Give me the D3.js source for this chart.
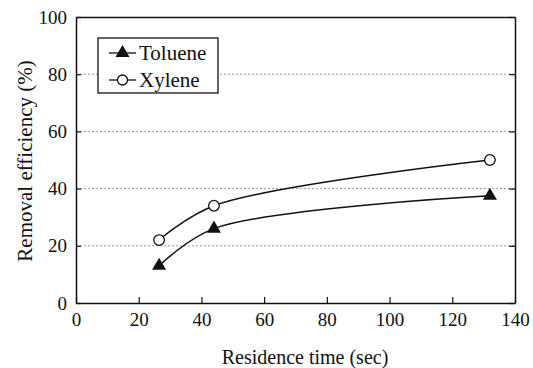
<!DOCTYPE html>
<html><head><meta charset="utf-8">
<script src="https://cdn.jsdelivr.net/npm/d3@7"></script>
<style>
body{margin:0;background:#fff}
svg text{font-family:"Liberation Serif" !important;}
</style>
</head><body><svg id="c" width="533" height="368"></svg>
<script>
const seriesNames = ["Toluene", "Xylene"];
const tolueneX = [26.5, 44, 132];
const tolueneY = [13, 26, 37.5];
const xyleneX = [26.5, 44, 132];
const xyleneY = [22, 34, 50];
const xTicks = [0, 20, 40, 60, 80, 100, 120, 140];
const yTicks = [0, 20, 40, 60, 80, 100];

const svg = d3.select("#c");
const L = 76, R = 515, T = 17, B = 303;
const x = d3.scaleLinear().domain([0, 140]).range([L, R]);
const y = d3.scaleLinear().domain([0, 100]).range([B, T]);

function txt(sel, size) {
  return sel.style("font-family", '"Liberation Serif"').style("font-size", size + "px").attr("fill", "#111");
}

// gridlines
svg.append("g").selectAll("line").data(yTicks.filter(d => d > 0 && d < 100)).join("line")
  .attr("x1", L).attr("x2", R).attr("y1", d => y(d)).attr("y2", d => y(d))
  .attr("stroke", "#999").attr("stroke-width", 1).attr("stroke-dasharray", "2,2");

// axes
const gx = svg.append("g").attr("transform", `translate(0,${B})`)
  .call(d3.axisBottom(x).tickValues(xTicks).tickSizeInner(-6).tickSizeOuter(0).tickPadding(13));
const gy = svg.append("g").attr("transform", `translate(${L},0)`)
  .call(d3.axisLeft(y).tickValues(yTicks).tickSizeInner(-5).tickSizeOuter(0).tickPadding(9));
const gr = svg.append("g").attr("transform", `translate(${R},0)`)
  .call(d3.axisRight(y).tickValues(yTicks).tickSizeInner(-6).tickSizeOuter(0).tickFormat(""));
const gt = svg.append("g").attr("transform", `translate(0,${T})`)
  .call(d3.axisTop(x).tickValues([]).tickSizeOuter(0));
[gx, gy, gr, gt].forEach(g => {
  g.attr("font-family", null).attr("font-size", null);
  g.select(".domain").attr("stroke", "#111").attr("stroke-width", 1.5);
  g.selectAll(".tick line").attr("stroke", "#111").attr("stroke-width", 1.2);
  txt(g.selectAll(".tick text"), 19);
});
gx.selectAll(".tick text").attr("dy", "0.5em");

// labels
txt(svg.append("text").attr("x", 305).attr("y", 364).attr("text-anchor", "middle"), 20)
  .text("Residence time (sec)");
txt(svg.append("text").attr("transform", `translate(32,161) rotate(-90)`).attr("text-anchor", "middle"), 21)
  .text("Removal efficiency (%)");

// lines
const line = d3.line().x(d => x(d[0])).y(d => y(d[1])).curve(d3.curveCatmullRom.alpha(0.5));
const tol = tolueneX.map((v, i) => [v, tolueneY[i]]);
const xyl = xyleneX.map((v, i) => [v, xyleneY[i]]);
[tol, xyl].forEach(data => svg.append("path").datum(data).attr("d", line)
  .attr("fill", "none").attr("stroke", "#111").attr("stroke-width", 1.5));

const tri = d3.symbol().type(d3.symbolTriangle).size(85);
svg.append("g").selectAll("path").data(tol).join("path")
  .attr("transform", d => `translate(${x(d[0])},${y(d[1])})`).attr("d", tri).attr("fill", "#111");
svg.append("g").selectAll("circle").data(xyl).join("circle")
  .attr("cx", d => x(d[0])).attr("cy", d => y(d[1])).attr("r", 5.3)
  .attr("fill", "#fff").attr("stroke", "#111").attr("stroke-width", 1.3);

// legend
const lg = svg.append("g");
lg.append("rect").attr("x", 98).attr("y", 38).attr("width", 120).attr("height", 55)
  .attr("fill", "#fff").attr("stroke", "#111").attr("stroke-width", 1.3);
seriesNames.forEach((name, i) => {
  const cy = 53 + i * 27;
  lg.append("line").attr("x1", 109).attr("x2", 136).attr("y1", cy).attr("y2", cy)
    .attr("stroke", "#111").attr("stroke-width", 1.3);
  if (i === 0) lg.append("path").attr("transform", `translate(122.5,${cy})`).attr("d", tri).attr("fill", "#111");
  else lg.append("circle").attr("cx", 122.5).attr("cy", cy).attr("r", 5)
    .attr("fill", "#fff").attr("stroke", "#111").attr("stroke-width", 1.3);
  txt(lg.append("text").attr("x", 139).attr("y", cy + 7), 21).text(name);
});
</script></body></html>
